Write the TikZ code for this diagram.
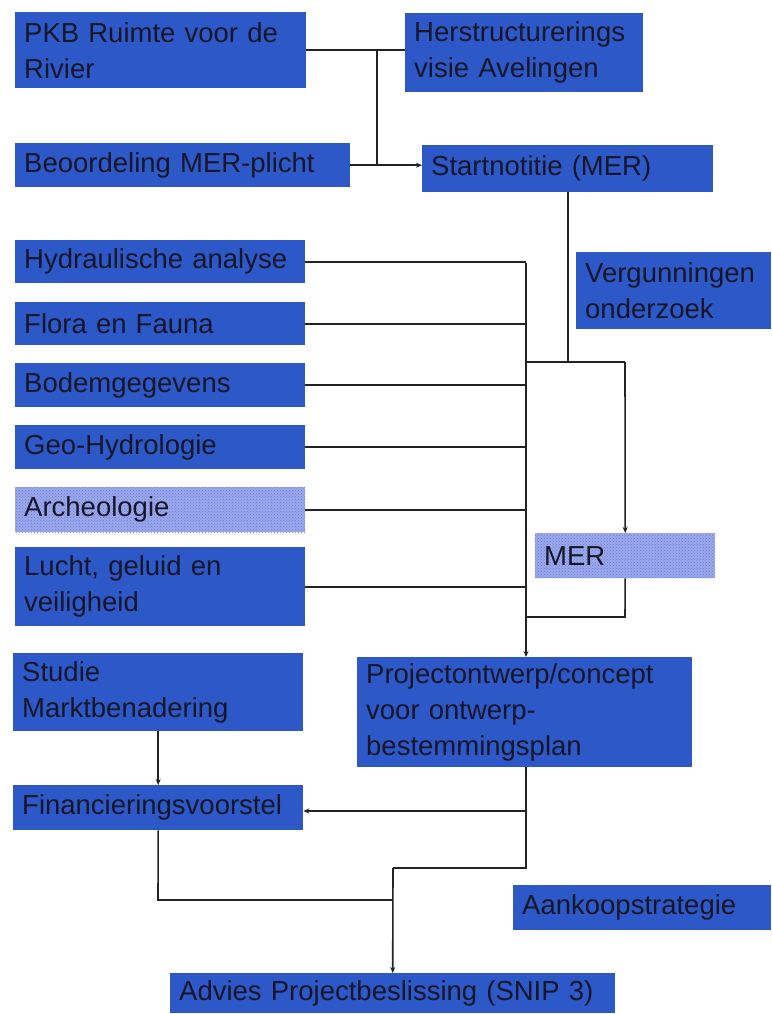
\documentclass[tikz,border=0pt]{standalone}
\usepackage{fontspec}
\setmainfont{Liberation Sans}
\usetikzlibrary{arrows.meta,patterns}
\definecolor{boxblue}{RGB}{44,88,200}
\definecolor{lightbox}{RGB}{155,168,236}
\definecolor{dotcol}{RGB}{105,122,218}
\definecolor{txt}{RGB}{22,22,40}
\definecolor{wire}{RGB}{35,35,35}
\tikzset{
  box/.style={fill=boxblue, draw=none, anchor=north west, align=left,
    inner xsep=9pt, inner ysep=0pt, text=txt, font=\fontsize{27.5}{36}\selectfont},
  lightbx/.style={box, fill=lightbox, postaction={pattern=crosshatch dots, pattern color=dotcol}},
  wires/.style={draw=wire, line width=1.6pt},
  arr/.style={wires, -{Stealth[length=6pt,width=5pt]}},
  sz/.style 2 args={text width=#1pt-18pt, minimum height=#2pt}
}
\begin{document}
\begin{tikzpicture}[x=1pt,y=-1pt]
\useasboundingbox[fill=white] (0,0) rectangle (771,1014);
% boxes
\node[box,sz={291}{76}] (pkb) at (15,12) {PKB Ruimte voor de\\Rivier};
\node[box,sz={238}{79}] (herst) at (405,13) {Herstructurerings\\visie Avelingen};
\node[box,sz={335}{44}] (beoord) at (15,143) {Beoordeling MER-plicht};
\node[box,sz={291}{47}] (start) at (422,145) {Startnotitie (MER)};
\node[box,sz={290}{43}] (hydr) at (15,240) {Hydraulische analyse};
\node[box,sz={290}{43}] (flora) at (15,302) {Flora en Fauna};
\node[box,sz={290}{44}] (bodem) at (15,363) {Bodemgegevens};
\node[box,sz={290}{44}] (geo) at (15,425) {Geo-Hydrologie};
\node[lightbx,sz={290}{45}] (arch) at (15,487) {Archeologie};
\node[box,sz={290}{79}] (lucht) at (15,547) {Lucht, geluid en\\veiligheid};
\node[box,sz={195}{77}] (verg) at (576,252) {Vergunningen\\onderzoek};
\node[lightbx,sz={180}{45}] (mer) at (535,533) {MER};
\node[box,sz={335}{110}] (proj) at (357,657) {Projectontwerp/concept\\voor ontwerp-\\bestemmingsplan};
\node[box,sz={290}{78}] (studie) at (13,653) {Studie\\Marktbenadering};
\node[box,sz={290}{45}] (fin) at (13,785) {Financieringsvoorstel};
\node[box,sz={258}{45}] (aank) at (513,885) {Aankoopstrategie};
\node[box,sz={445}{40}] (advies) at (170,973) {Advies Projectbeslissing (SNIP 3)};
% junction coordinates
\coordinate (ja) at (377,50);
\coordinate (jb) at (377,165);
\coordinate (m0) at (526,263);
\coordinate (ml) at (526,362);
\coordinate (mr) at (625,362);
\coordinate (mb) at (625,617);
\coordinate (mbl) at (526,617);
\coordinate (pf) at (526,811);
\coordinate (pd) at (526,868);
\coordinate (ad) at (393,868);
\coordinate (fb) at (158,900);
\coordinate (fr) at (393,900);
% connectors
\draw[wires] (pkb.east) -- (pkb.east -| herst.west);
\draw[wires] (ja) -- (jb);
\draw[arr] (beoord.east) -- (beoord.east -| start.west);
\draw[wires] (start.south) -- (start.south |- ml);
\draw[wires] (ml) -- (mr);
\draw[arr] (mr) -- (mer.north);
\draw[wires] (mer.south) -- (mb) -- (mbl);
\draw[arr] (m0) -- (m0 |- proj.north);
\draw[wires] (hydr.east) -- (hydr.east -| m0);
\draw[wires] (flora.east) -- (flora.east -| m0);
\draw[wires] (bodem.east) -- (bodem.east -| m0);
\draw[wires] (geo.east) -- (geo.east -| m0);
\draw[wires] (arch.east) -- (arch.east -| m0);
\draw[wires] (lucht.east) -- (lucht.east -| m0);
\draw[wires] (proj.south -| pf) -- (pd) -- (ad);
\draw[arr] (pf) -- (pf -| fin.east);
\draw[arr] (studie.south) -- (fin.north);
\draw[wires] (fin.south) -- (fb) -- (fr);
\draw[arr] (ad) -- (advies.north);
\end{tikzpicture}
\end{document}
